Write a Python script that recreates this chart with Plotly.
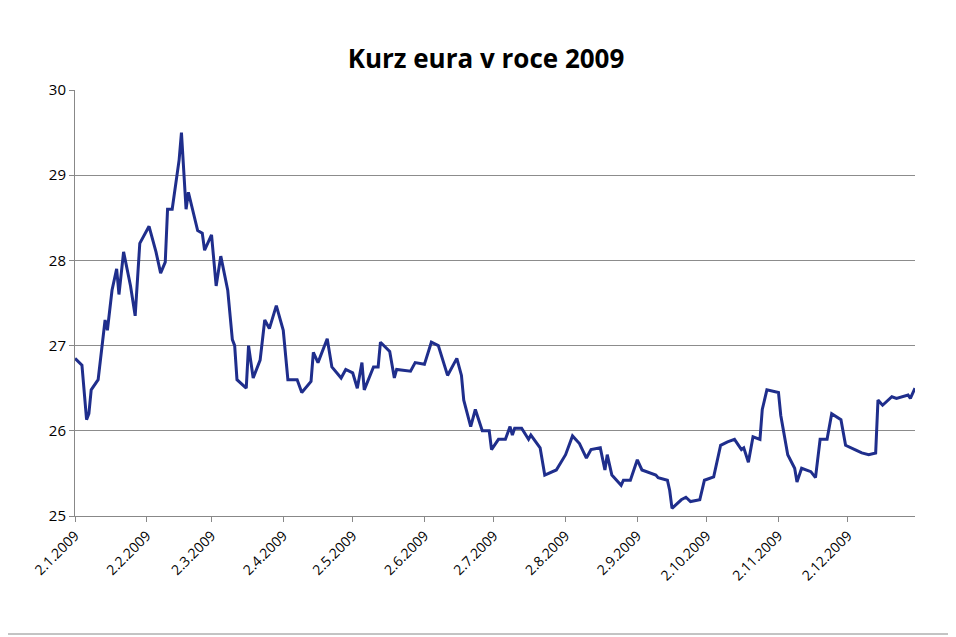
import pandas as pd
import plotly.graph_objects as go

day_offsets = [0,3,5,6,7,10,13,14,16,18,19,21,24,26,28,32,35,37,39,40,42,45,46,48,49,53,55,56,59,61,63,66,68,69,70,74,75,77,80,82,84,87,90,92,96,98,102,103,105,109,111,115,117,120,122,124,125,129,131,132,136,138,139,145,147,151,154,157,161,165,167,168,171,173,176,179,180,183,186,188,189,190,193,196,197,201,203,208,212,215,218,221,223,227,229,230,232,236,237,240,243,245,251,252,256,257,258,262,264,266,270,272,276,279,282,285,288,289,291,293,296,297,299,304,305,308,311,312,314,318,320,322,325,327,331,333,337,340,343,346,347,349,353,355,360,361,363]
rates = [26.85,26.77,26.13,26.2,26.48,26.6,27.3,27.18,27.65,27.9,27.6,28.1,27.7,27.35,28.2,28.4,28.1,27.85,27.98,28.6,28.6,29.18,29.5,28.6,28.8,28.35,28.32,28.12,28.3,27.7,28.05,27.65,27.07,27.0,26.6,26.5,27.0,26.62,26.83,27.3,27.2,27.47,27.18,26.6,26.6,26.45,26.58,26.92,26.8,27.08,26.75,26.62,26.72,26.68,26.5,26.8,26.48,26.75,26.75,27.04,26.93,26.62,26.72,26.7,26.8,26.78,27.04,27.0,26.65,26.85,26.65,26.36,26.05,26.25,26.0,26.0,25.78,25.9,25.9,26.05,25.95,26.03,26.03,25.9,25.95,25.8,25.48,25.54,25.72,25.94,25.85,25.68,25.78,25.8,25.54,25.72,25.48,25.36,25.42,25.42,25.66,25.54,25.48,25.45,25.42,25.3,25.09,25.19,25.22,25.17,25.19,25.42,25.46,25.83,25.87,25.9,25.78,25.8,25.63,25.93,25.9,26.25,26.48,26.45,26.18,25.72,25.56,25.4,25.56,25.52,25.45,25.9,25.9,26.2,26.13,25.83,25.78,25.74,25.72,25.74,26.36,26.3,26.4,26.38,26.42,26.38,26.5]
tick_dates = ["2009-01-02","2009-02-02","2009-03-02","2009-04-02","2009-05-02","2009-06-02","2009-07-02","2009-08-02","2009-09-02","2009-10-02","2009-11-02","2009-12-02"]
tick_labels = ["2.1.2009","2.2.2009","2.3.2009","2.4.2009","2.5.2009","2.6.2009","2.7.2009","2.8.2009","2.9.2009","2.10.2009","2.11.2009","2.12.2009"]

dates = pd.Timestamp("2009-01-02") + pd.to_timedelta(day_offsets, unit="D")

fig = go.Figure(go.Scatter(x=dates, y=rates, mode="lines",
                           line=dict(color="#1F2E8C", width=3)))
fig.update_layout(
    width=956, height=637, paper_bgcolor="white", plot_bgcolor="white",
    margin=dict(l=67, r=49, t=82, b=129),
    title=dict(text="<b>Kurz eura v roce 2009</b>", x=0.5, xanchor="center", y=0.935,
               font=dict(family="Open Sans", size=26, color="black")),
    font=dict(family="Open Sans", color="black"),
    showlegend=False,
    shapes=[dict(type="rect", xref="paper", yref="paper", x0=-0.0869, x1=1.0452,
                 y0=-0.277, y1=1.207, line=dict(color="#888888", width=1))],
)
fig.update_xaxes(range=["2009-01-02", "2009-12-31"], tickvals=tick_dates, ticktext=tick_labels,
                 tickangle=-45, tickfont=dict(size=14), showgrid=False,
                 showline=True, linecolor="#888888", ticks="outside", ticklen=5, tickcolor="#888888")
fig.update_yaxes(range=[25, 30], dtick=1, tickfont=dict(size=15), showgrid=True, gridcolor="#8c8c8c",
                 showline=True, linecolor="#888888", ticks="outside", ticklen=5, tickcolor="#888888",
                 zeroline=False)
fig.write_html("out.html")
